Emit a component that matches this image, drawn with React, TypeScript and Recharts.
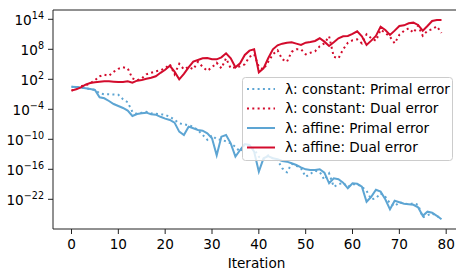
import React from 'react';
import { LineChart, Line, XAxis, YAxis, ReferenceLine, Label } from 'recharts';

// iteration index
const iterations = [
  0, 1, 2, 3, 4, 5, 6, 7, 8, 9, 10, 11, 12, 13, 14, 15, 16, 17, 18, 19,
  20, 21, 22, 23, 24, 25, 26, 27, 28, 29, 30, 31, 32, 33, 34, 35, 36, 37, 38, 39,
  40, 41, 42, 43, 44, 45, 46, 47, 48, 49, 50, 51, 52, 53, 54, 55, 56, 57, 58, 59,
  60, 61, 62, 63, 64, 65, 66, 67, 68, 69, 70, 71, 72, 73, 74, 75, 76, 77, 78, 79,
];

// log10 of the errors
const constPrimalExp = [
  0.5, 0.45, 0.35, 0.2, 0.05, -0.1, -0.8, -1.0, -1.0, -1.05, -1.1, -2.0, -2.6, -4.5, -4.9, -4.7, -4.5, -4.8, -4.9, -5.0,
  -5.1, -5.5, -6.1, -6.8, -7.0, -7.2, -7.5, -8.2, -9.1, -10.1, -9.2, -10.0, -10.1, -10.4, -10.8, -11.5, -12.5, -11.0, -11.3, -12.0,
  -13.5, -14.0, -13.2, -13.8, -14.2, -15.8, -16.6, -14.9, -15.3, -15.8, -17.5, -16.9, -16.3, -16.5, -18.1, -16.8, -19.5, -19.0, -18.7, -19.5,
  -19.0, -19.0, -19.5, -20.3, -22.0, -21.8, -20.8, -21.5, -22.8, -23.4, -22.6, -22.8, -23.0, -22.8, -23.1, -25.6, -25.2, -24.8, -25.3, -26.0,
];
const constDualExp = [
  -0.27, 0.1, 0.6, 0.8, 1.2, 1.8, 2.6, 2.9, 2.7, 3.5, 4.1, 4.4, 4.2, 2.2, 1.8, 2.2, 3.0, 3.3, 3.6, 3.8,
  4.2, 5.0, 3.0, 5.1, 4.0, 4.5, 4.0, 5.5, 4.5, 3.7, 4.4, 5.3, 4.2, 6.2, 4.2, 4.4, 4.6, 5.0, 6.5, 7.0,
  4.5, 4.0, 5.5, 7.0, 7.8, 6.0, 5.5, 7.5, 8.0, 8.0, 7.0, 7.3, 7.6, 8.6, 9.2, 10.6, 6.5, 6.2, 8.0, 9.3,
  9.8, 10.0, 9.2, 11.0, 10.2, 9.7, 11.9, 11.3, 10.5, 9.2, 10.9, 11.7, 12.2, 11.3, 12.7, 10.7, 11.7, 12.0, 12.6, 11.3,
];
const affinePrimalExp = [
  0.53, 0.45, 0.35, 0.2, 0.06, -0.14, -1.6, -1.8, -2.34, -2.94, -3.34, -3.74, -4.27, -5.34, -4.94, -4.8, -4.67, -5.0, -5.07, -5.5,
  -5.87, -6.14, -6.67, -8.47, -9.14, -7.47, -7.8, -8.14, -8.27, -8.8, -9.8, -13.2, -9.47, -9.14, -10.8, -13.47, -12.14, -10.94, -11.14, -12.47,
  -16.47, -13.8, -13.34, -13.8, -14.0, -14.34, -14.47, -14.8, -15.14, -15.6, -16.0, -16.14, -16.14, -16.0, -16.67, -18.8, -17.8, -18.0, -18.67, -19.8,
  -18.8, -18.9, -19.47, -22.5, -21.5, -20.1, -20.47, -22.0, -24.0, -22.3, -22.6, -22.9, -23.0, -23.1, -23.6, -25.3, -24.47, -24.67, -25.3, -26.0,
];
const affineDualExp = [
  -0.27, 0.0, 0.4, 0.93, 1.27, 1.4, 1.53, 1.6, 1.6, 1.53, 1.47, 1.47, 1.6, 1.33, 1.73, 1.87, 2.1, 2.3, 2.6, 3.3,
  3.9, 4.7, 3.53, 2.0, 3.07, 4.4, 5.53, 5.87, 6.2, 6.27, 6.0, 6.0, 6.4, 7.2, 6.2, 4.4, 5.2, 6.87, 7.73, 8.0,
  3.4, 4.2, 6.2, 8.0, 8.8, 9.13, 9.33, 9.4, 9.13, 8.87, 9.33, 9.47, 9.67, 10.2, 9.53, 8.67, 9.4, 10.2, 10.6, 10.67,
  11.07, 11.6, 10.6, 8.87, 9.73, 10.67, 12.53, 11.87, 10.87, 11.73, 12.67, 12.8, 13.2, 13.33, 12.87, 11.73, 12.67, 13.67, 13.87, 13.87,
];

const xTicks = [0, 10, 20, 30, 40, 50, 60, 70, 80];
const yTicks = [1e-22, 1e-16, 1e-10, 1e-4, 1e2, 1e8, 1e14];
const xDomain = [-3.95, 82.95];
const yDomain = [Math.pow(10, -27.94), Math.pow(10, 15.86)];

const seriesNames = [
  'λ: constant: Primal error',
  'λ: constant: Dual error',
  'λ: affine: Primal error',
  'λ: affine: Dual error',
];

const BLUE = '#5da5d3';
const RED = '#d30b2c';
const FONT = 'DejaVu Sans, sans-serif';
const FS = 13.6;
const DOT = '2 3.3';

const data = iterations.map((it, k) => ({
  it,
  cp: Math.pow(10, constPrimalExp[k]),
  cd: Math.pow(10, constDualExp[k]),
  ap: Math.pow(10, affinePrimalExp[k]),
  ad: Math.pow(10, affineDualExp[k]),
}));

const YTick = (props: any) => {
  const { x, y, payload } = props;
  const e = Math.round(Math.log10(payload.value));
  const s = e < 0 ? '\u2212' + String(-e) : String(e);
  return (
    <text x={x - 2} y={y} textAnchor="end" fontFamily={FONT} fontSize={FS} fill="#000">
      <tspan dy={5.5}>10</tspan>
      <tspan dy={-6} fontSize={9.6}>{s}</tspan>
    </text>
  );
};

const XTick = (props: any) => {
  const { x, y, payload } = props;
  return (
    <text x={x} y={y + 12.8} textAnchor="middle" fontFamily={FONT} fontSize={FS} fill="#000">
      {payload.value}
    </text>
  );
};

const legendRows = [
  { name: seriesNames[0], color: BLUE, dash: DOT },
  { name: seriesNames[1], color: RED, dash: DOT },
  { name: seriesNames[2], color: BLUE, dash: undefined },
  { name: seriesNames[3], color: RED, dash: undefined },
];

const LegendBox = () => (
  <svg
    width={212}
    height={85}
    style={{ position: 'absolute', left: 242, top: 77, overflow: 'visible' }}
  >
    <rect x={0.5} y={0.5} width={210} height={83} rx={3} ry={3}
      fill="#ffffff" fillOpacity={0.8} stroke="#cccccc" strokeWidth={1} />
    {legendRows.map((r, i) => {
      const cy = 12 + i * 19.5;
      return (
        <g key={r.name}>
          <line x1={5} x2={33} y1={cy} y2={cy} stroke={r.color} strokeWidth={2}
            strokeDasharray={r.dash} />
          <text x={43} y={cy + 4.8} fontFamily={FONT} fontSize={FS} fill="#000">{r.name}</text>
        </g>
      );
    })}
  </svg>
);

export default function App() {
  return (
    <div style={{ position: 'absolute', left: 0, top: 0, width: 456, height: 271, overflow: 'hidden', background: '#fff' }}>
      <LineChart
        width={470}
        height={271}
        data={data}
        margin={{ top: 10, right: 10, left: 0, bottom: 0 }}
      >
        <XAxis
          dataKey="it"
          type="number"
          domain={xDomain}
          ticks={xTicks}
          allowDataOverflow
          height={42}
          tickSize={5}
          tickMargin={2}
          axisLine={{ stroke: '#222', strokeWidth: 1 }}
          tickLine={{ stroke: '#222', strokeWidth: 1 }}
          tick={<XTick />}
        >
          <Label
            content={(p: any) => {
              const vb = p.viewBox;
              return (
                <text x={vb.x + vb.width / 2} y={vb.y + 38.5} textAnchor="middle"
                  fontFamily={FONT} fontSize={FS} fill="#000">Iteration</text>
              );
            }}
          />
        </XAxis>
        <YAxis
          type="number"
          scale="log"
          domain={yDomain}
          ticks={yTicks}
          allowDataOverflow
          width={53}
          tickSize={5}
          tickMargin={2}
          axisLine={{ stroke: '#222', strokeWidth: 1 }}
          tickLine={{ stroke: '#222', strokeWidth: 1 }}
          tick={<YTick />}
          interval={0}
        />
        <ReferenceLine y={yDomain[1]} stroke="#222" strokeWidth={1} ifOverflow="visible" />
        <Line dataKey="cp" name={seriesNames[0]} stroke={BLUE} strokeWidth={2}
          strokeDasharray={DOT} dot={false} isAnimationActive={false} />
        <Line dataKey="cd" name={seriesNames[1]} stroke={RED} strokeWidth={2}
          strokeDasharray={DOT} dot={false} isAnimationActive={false} />
        <Line dataKey="ap" name={seriesNames[2]} stroke={BLUE} strokeWidth={2}
          dot={false} isAnimationActive={false} />
        <Line dataKey="ad" name={seriesNames[3]} stroke={RED} strokeWidth={2}
          dot={false} isAnimationActive={false} />
      </LineChart>
      <LegendBox />
    </div>
  );
}
